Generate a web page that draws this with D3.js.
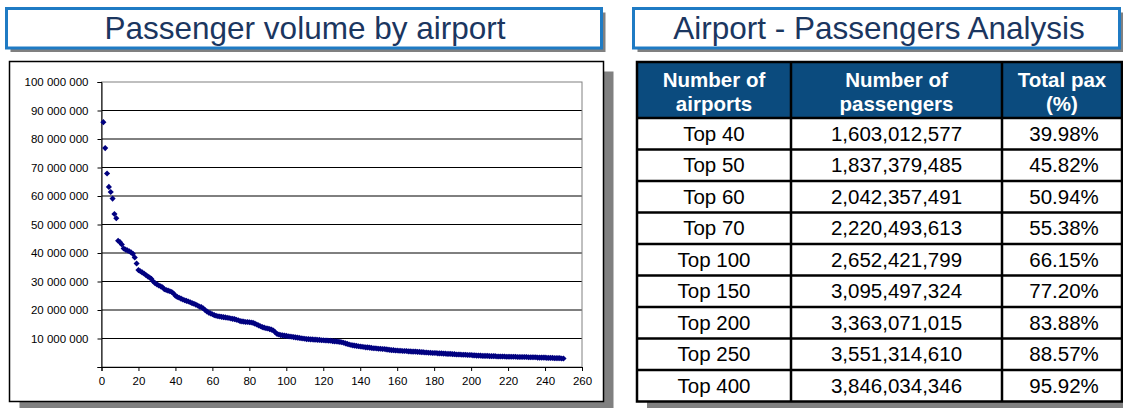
<!DOCTYPE html>
<html>
<head>
<meta charset="utf-8">
<script src="https://cdn.jsdelivr.net/npm/d3@7"></script>
<style>
  html, body { margin: 0; padding: 0; background: #ffffff; }
  svg { display: block; font-family: "Liberation Sans", Arial, sans-serif; }
</style>
</head>
<body>
<svg id="chart" width="1123" height="408"></svg>
<script>
// ---- Data ----------------------------------------------------------------
// Annual passengers (millions) of each airport, ranked from busiest (rank 1).
const passengersMillions = [
  85.9, 76.8, 67.9, 63.2, 61.4, 59.1, 53.7, 52.2, 44.3, 43.8,
  43.0, 41.6, 41.2, 40.9, 40.6, 40.2, 39.7, 38.4, 36.3, 34.0,
  33.6, 33.2, 32.8, 32.3, 31.8, 31.4, 30.9, 30.0, 29.4, 29.0,
  28.6, 28.3, 28.0, 27.3, 27.0, 26.8, 26.6, 26.3, 25.8, 25.0,
  24.6, 24.3, 24.0, 23.7, 23.4, 23.2, 23.0, 22.7, 22.4, 22.2,
  21.9, 21.6, 21.2, 21.0, 20.6, 20.0, 19.5, 19.1, 18.8, 18.5,
  18.2, 18.0, 17.8, 17.7, 17.6, 17.5, 17.4, 17.3, 17.2, 17.0,
  16.9, 16.8, 16.6, 16.4, 16.1, 16.0, 15.9, 15.8, 15.8, 15.7,
  15.6, 15.5, 15.2, 14.9, 14.6, 14.3, 14.0, 13.8, 13.6, 13.5,
  13.3, 13.1, 12.8, 12.2, 11.6, 11.4, 11.2, 11.1, 11.0, 10.9,
  10.8, 10.7, 10.6, 10.5, 10.4, 10.3, 10.2, 10.1, 10.0, 9.9,
  9.8, 9.8, 9.7, 9.7, 9.6, 9.6, 9.5, 9.5, 9.4, 9.4,
  9.3, 9.3, 9.2, 9.2, 9.1, 9.0, 9.0, 8.9, 8.8, 8.7,
  8.5, 8.3, 8.1, 7.9, 7.7, 7.6, 7.5, 7.4, 7.3, 7.2,
  7.1, 7.0, 6.9, 6.9, 6.8, 6.7, 6.6, 6.6, 6.5, 6.4,
  6.4, 6.3, 6.3, 6.2, 6.1, 6.0, 5.9, 5.9, 5.8, 5.8,
  5.7, 5.7, 5.6, 5.6, 5.6, 5.5, 5.5, 5.4, 5.4, 5.4,
  5.3, 5.3, 5.2, 5.2, 5.1, 5.1, 5.0, 5.0, 4.9, 4.9,
  4.9, 4.8, 4.8, 4.8, 4.7, 4.7, 4.6, 4.6, 4.6, 4.5,
  4.5, 4.4, 4.4, 4.4, 4.3, 4.3, 4.3, 4.2, 4.2, 4.2,
  4.1, 4.1, 4.0, 4.0, 4.0, 3.9, 3.9, 3.9, 3.9, 3.8,
  3.8, 3.8, 3.8, 3.7, 3.7, 3.7, 3.7, 3.7, 3.6, 3.6,
  3.6, 3.6, 3.6, 3.6, 3.5, 3.5, 3.5, 3.5, 3.5, 3.5,
  3.4, 3.4, 3.4, 3.4, 3.4, 3.3, 3.3, 3.3, 3.3, 3.3,
  3.2, 3.2, 3.2, 3.2, 3.1, 3.1, 3.1, 3.1, 3.0, 3.0
];

// Axis ticks (y in millions of passengers, x in airport rank)
const yTickValues = [0, 10, 20, 30, 40, 50, 60, 70, 80, 90, 100];
const xTickValues = [0, 20, 40, 60, 80, 100, 120, 140, 160, 180, 200, 220, 240, 260];

// Cumulative passenger table
const tableHeaders = [["Number of", "airports"], ["Number of", "passengers"], ["Total pax", "(%)"]];
const topGroups = ["Top 40", "Top 50", "Top 60", "Top 70", "Top 100", "Top 150", "Top 200", "Top 250", "Top 400"];
const groupPassengers = [1603012577, 1837379485, 2042357491, 2220493613, 2652421799, 3095497324, 3363071015, 3551314610, 3846034346];
const groupShare = [39.98, 45.82, 50.94, 55.38, 66.15, 77.20, 83.88, 88.57, 95.92];

// ---- Drawing -------------------------------------------------------------
const svg = d3.select("#chart");
const titleColor = "#1b365f";
const boxBlue = "#1f7bc4";
const shadowGray = "#808080";

// Titled banner with drop shadow
function banner(x, y, w, h, label, cx) {
  svg.append("rect").attr("x", x + 4).attr("y", y + 4).attr("width", w).attr("height", h)
    .attr("fill", shadowGray);
  svg.append("rect").attr("x", x).attr("y", y).attr("width", w).attr("height", h)
    .attr("fill", "#fff").attr("stroke", boxBlue).attr("stroke-width", 3);
  svg.append("text").attr("x", cx).attr("y", y + 30.5)
    .attr("text-anchor", "middle").attr("font-size", 31.5).attr("fill", titleColor)
    .text(label);
}
banner(6.5, 8.5, 595, 39.5, "Passenger volume by airport", 305);
banner(633.5, 8.5, 486, 39.5, "Airport - Passengers Analysis", 879);

// ---- Scatter chart panel ----
svg.append("rect").attr("x", 19.5).attr("y", 71.5).attr("width", 594).attr("height", 340)
  .attr("fill", shadowGray);
svg.append("rect").attr("x", 9.5).attr("y", 61.5).attr("width", 594).attr("height", 340)
  .attr("fill", "#fff").attr("stroke", "#000").attr("stroke-width", 1.5);

const plot = { left: 101.5, right: 582, top: 82, bottom: 367 };
const x = d3.scaleLinear().domain([0, 260]).range([plot.left, plot.right]);
const y = d3.scaleLinear().domain([0, 100]).range([plot.bottom, plot.top]);

// Gridlines
svg.append("g").selectAll("line")
  .data(yTickValues.filter(v => v > 0 && v < 100))
  .join("line")
  .attr("x1", plot.left).attr("x2", plot.right)
  .attr("y1", d => y(d)).attr("y2", d => y(d))
  .attr("stroke", "#000").attr("stroke-width", 1);

// Plot area border
svg.append("rect").attr("x", plot.left).attr("y", plot.top)
  .attr("width", plot.right - plot.left).attr("height", plot.bottom - plot.top)
  .attr("fill", "none").attr("stroke", "#808080").attr("stroke-width", 1);

const spaced = v => (v === 0 ? "" : d3.format(",")(v * 1e6).replace(/,/g, " "));

const yAxis = svg.append("g").attr("transform", `translate(${plot.left},0)`)
  .call(d3.axisLeft(y).tickValues(yTickValues).tickFormat(spaced).tickSize(4).tickPadding(9));
const xAxis = svg.append("g").attr("transform", `translate(0,${plot.bottom})`)
  .call(d3.axisBottom(x).tickValues(xTickValues).tickFormat(d3.format("d")).tickSize(4).tickPadding(6));

[yAxis, xAxis].forEach(g => {
  g.select(".domain").attr("stroke", "#000").attr("stroke-width", 1);
  g.selectAll(".tick line").attr("stroke", "#000");
  g.selectAll(".tick text").attr("fill", "#000").attr("font-size", 11.5)
    .attr("font-family", "'Liberation Sans', Arial, sans-serif");
});

// Diamond markers
const diamond = {
  draw(ctx, size) {
    const r = Math.sqrt(size) / 2 * 1.25;
    ctx.moveTo(0, -r); ctx.lineTo(r, 0); ctx.lineTo(0, r); ctx.lineTo(-r, 0); ctx.closePath();
  }
};
svg.append("g").selectAll("path")
  .data(passengersMillions)
  .join("path")
  .attr("transform", (d, i) => `translate(${x(i + 1)},${y(d)})`)
  .attr("d", d3.symbol().type(diamond).size(24))
  .attr("fill", "#000080");

// ---- Table panel ----
const tbl = { left: 637, right: 1122, top: 62, headerBottom: 118, bottom: 401.5 };
const colEdges = [tbl.left, 791, 1002, tbl.right];
const rows = d3.scaleBand().domain(topGroups).range([tbl.headerBottom, tbl.bottom]);

svg.append("rect").attr("x", tbl.left + 10).attr("y", tbl.top + 10)
  .attr("width", tbl.right - tbl.left).attr("height", tbl.bottom - tbl.top)
  .attr("fill", shadowGray);
svg.append("rect").attr("x", tbl.left).attr("y", tbl.top)
  .attr("width", tbl.right - tbl.left).attr("height", tbl.bottom - tbl.top)
  .attr("fill", "#fff");
svg.append("rect").attr("x", tbl.left).attr("y", tbl.top)
  .attr("width", tbl.right - tbl.left).attr("height", tbl.headerBottom - tbl.top)
  .attr("fill", "#0b4b7e");

// Header text
tableHeaders.forEach((lines, c) => {
  const cx = (colEdges[c] + colEdges[c + 1]) / 2;
  svg.append("text").attr("x", cx).attr("text-anchor", "middle")
    .attr("font-size", 20.5).attr("font-weight", "bold").attr("fill", "#fff")
    .selectAll("tspan").data(lines).join("tspan")
    .attr("x", cx).attr("y", (d, i) => 87 + i * 23.5).text(d => d);
});

// Body text
const fmtPax = d3.format(",");
const fmtShare = v => d3.format(".2f")(v) + "%";
const cellText = topGroups.map((g, i) => [g, fmtPax(groupPassengers[i]), fmtShare(groupShare[i])]);
topGroups.forEach((g, r) => {
  const cy = rows(g) + rows.bandwidth() / 2;
  cellText[r].forEach((t, c) => {
    svg.append("text")
      .attr("x", (colEdges[c] + colEdges[c + 1]) / 2 + (c === 2 ? 2 : 0))
      .attr("y", cy + 7)
      .attr("text-anchor", "middle").attr("font-size", 20.5).attr("fill", "#000")
      .text(t);
  });
});

// Table rules
const rules = svg.append("g").attr("stroke", "#000").attr("stroke-width", 2.5);
topGroups.forEach(g => {
  rules.append("line").attr("x1", tbl.left).attr("x2", tbl.right)
    .attr("y1", rows(g)).attr("y2", rows(g));
});
colEdges.slice(1, -1).forEach(cx => {
  rules.append("line").attr("x1", cx).attr("x2", cx).attr("y1", tbl.top).attr("y2", tbl.bottom);
});
rules.append("rect").attr("x", tbl.left).attr("y", tbl.top)
  .attr("width", tbl.right - tbl.left).attr("height", tbl.bottom - tbl.top)
  .attr("fill", "none");
</script>
</body>
</html>
